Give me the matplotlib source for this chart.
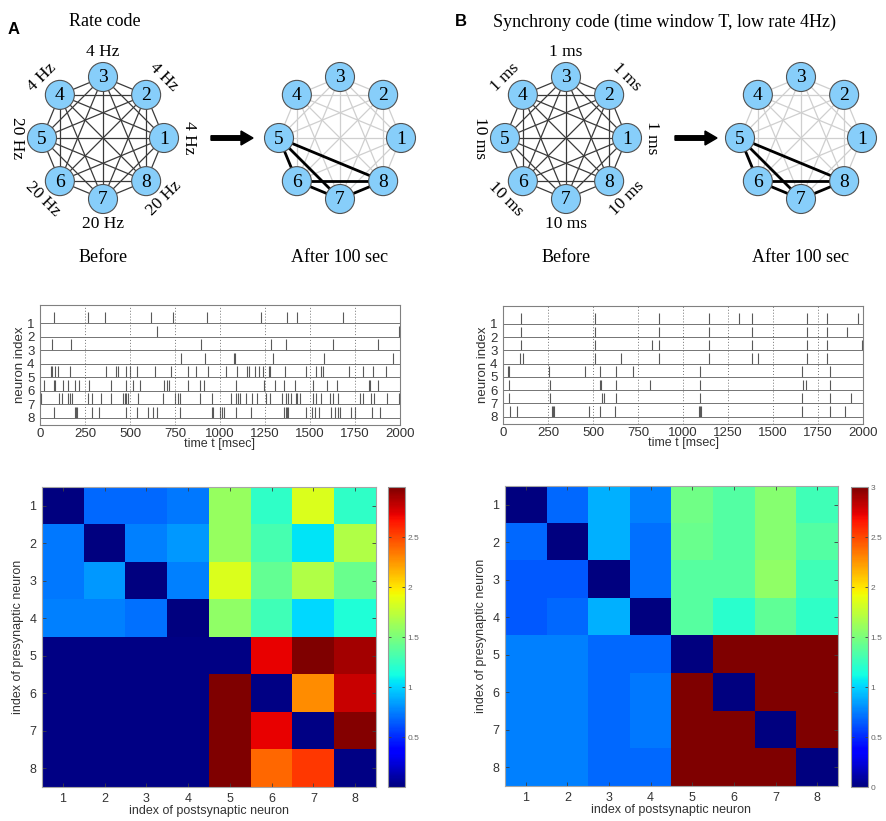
import numpy as np
import matplotlib
matplotlib.use("Agg")
import matplotlib.pyplot as plt
from matplotlib.patches import Circle, FancyArrow
from matplotlib.ticker import FormatStrFormatter

plt.rcParams['font.family'] = ['Liberation Sans', 'DejaVu Sans']

# ---- data ----
neurons = [1, 2, 3, 4, 5, 6, 7, 8]
rate_labels = ['4 Hz', '4 Hz', '4 Hz', '4 Hz', '20 Hz', '20 Hz', '20 Hz', '20 Hz']
sync_labels = ['1 ms', '1 ms', '1 ms', '1 ms', '10 ms', '10 ms', '10 ms', '10 ms']
strong_edges = [(5, 6), (5, 7), (5, 8), (6, 7), (6, 8), (7, 8)]

time_ticks = [0, 250, 500, 750, 1000, 1250, 1500, 1750, 2000]

rate_spikes = [
    [80, 265, 360, 615, 740, 930, 1225, 1370, 1425, 1685],
    [650, 1995],
    [65, 170, 895, 1285, 1365, 1630, 1875],
    [785, 915, 1075, 1085, 1295, 1575, 1960],
    [60, 65, 85, 100, 165, 365, 420, 435, 475, 500, 540, 640, 725, 820, 865, 935,
     1035, 1095, 1150, 1160, 1195, 1215, 1240, 1270, 1280, 1360, 1480, 1535, 1560,
     1570, 1715, 1795, 1850, 1920],
    [20, 75, 85, 130, 155, 195, 215, 270, 395, 475, 515, 555, 690, 705, 715, 820,
     890, 910, 1090, 1245, 1305, 1355, 1415, 1515, 1595, 1650, 1825, 1835, 1880],
    [5, 105, 120, 155, 165, 175, 265, 290, 340, 395, 460, 470, 480, 490, 545, 685,
     750, 765, 775, 890, 955, 1060, 1090, 1100, 1110, 1145, 1175, 1205, 1255, 1275,
     1345, 1365, 1375, 1395, 1420, 1430, 1445, 1515, 1535, 1560, 1610, 1625, 1655,
     1780, 1795, 1840, 1855, 1925, 1995],
    [75, 195, 200, 205, 290, 325, 475, 540, 600, 625, 650, 780, 955, 960, 1000,
     1010, 1020, 1090, 1170, 1355, 1365, 1370, 1380, 1480, 1510, 1525, 1550, 1615,
     1640, 1655, 1665, 1730, 1750, 1845, 1890],
]

sync_spikes = [
    [100, 510, 865, 1145, 1310, 1385, 1690, 1800, 1970],
    [100, 513, 865, 1145, 1385, 1690, 1800, 1910],
    [100, 510, 825, 865, 1145, 1383, 1690, 1800, 1995],
    [95, 110, 510, 655, 865, 1145, 1383, 1415, 1690, 1800],
    [30, 35, 255, 455, 540, 625, 720, 1095, 1660, 1815],
    [35, 260, 540, 545, 625, 815, 1095, 1665, 1685, 1815],
    [35, 260, 550, 560, 625, 1095, 1660, 1815, 1935],
    [40, 75, 270, 280, 285, 480, 540, 620, 1090, 1095, 1100, 1660, 1815, 1900],
]

rate_weights = np.array([
    [0.00, 0.68, 0.68, 0.73, 1.60, 1.22, 1.84, 1.22],
    [0.73, 0.00, 0.75, 0.83, 1.60, 1.31, 1.05, 1.69],
    [0.73, 0.83, 0.00, 0.75, 1.84, 1.41, 1.69, 1.43],
    [0.75, 0.75, 0.71, 0.00, 1.58, 1.28, 1.01, 1.17],
    [0.02, 0.02, 0.02, 0.02, 0.02, 2.72, 3.00, 2.90],
    [0.02, 0.02, 0.02, 0.02, 3.00, 0.02, 2.28, 2.81],
    [0.02, 0.02, 0.02, 0.02, 3.00, 2.72, 0.02, 2.98],
    [0.02, 0.02, 0.02, 0.02, 3.00, 2.40, 2.55, 0.02],
])

sync_weights = np.array([
    [0.00, 0.68, 0.90, 0.75, 1.46, 1.35, 1.54, 1.28],
    [0.68, 0.00, 0.90, 0.71, 1.43, 1.35, 1.54, 1.35],
    [0.64, 0.64, 0.00, 0.71, 1.37, 1.37, 1.58, 1.28],
    [0.64, 0.68, 0.90, 0.00, 1.37, 1.20, 1.40, 1.22],
    [0.75, 0.75, 0.68, 0.68, 0.00, 3.00, 3.00, 3.00],
    [0.75, 0.75, 0.68, 0.73, 3.00, 0.00, 3.00, 3.00],
    [0.75, 0.75, 0.68, 0.73, 3.00, 3.00, 0.00, 3.00],
    [0.75, 0.75, 0.68, 0.68, 3.00, 3.00, 3.00, 0.00],
])

W, H = 886, 821
fig = plt.figure(figsize=(W / 100, H / 100), dpi=100)


def px_axes(x0, y0, x1, y1):
    return fig.add_axes([x0 / W, 1 - y1 / H, (x1 - x0) / W, (y1 - y0) / H])


# overlay in pixel coordinates for the network drawings
ov = fig.add_axes([0, 0, 1, 1])
ov.set_xlim(0, W)
ov.set_ylim(H, 0)
ov.axis('off')

serif = 'Liberation Serif'
node_color = '#87cefa'
label_rot = [-90, -45, 0, 45, -90, -45, 0, 45]


def node_pos(cx, cy, r):
    ang = np.deg2rad(np.arange(8) * 45)
    return cx + r * np.cos(ang), cy - r * np.sin(ang)


def draw_net(cx, cy, strong=None, labels=None, r=61):
    xs, ys = node_pos(cx, cy, r)
    for i in range(8):
        for j in range(i + 1, 8):
            if strong is None:
                c, lw, z = '#3a3a3a', 0.9, 1
            elif (i + 1, j + 1) in strong:
                c, lw, z = 'black', 2.0, 2
            else:
                c, lw, z = '#cfcfcf', 0.9, 1
            ov.plot([xs[i], xs[j]], [ys[i], ys[j]], color=c, lw=lw, zorder=z)
    for k in range(8):
        ov.add_patch(Circle((xs[k], ys[k]), 14.5, fc=node_color, ec='#505050',
                            lw=0.8, zorder=3))
        ov.text(xs[k], ys[k] + 1, str(neurons[k]), ha='center', va='center',
                fontsize=14, family=serif, zorder=4)
    if labels is not None:
        lx, ly = node_pos(cx, cy, 86)
        for k in range(8):
            ov.text(lx[k], ly[k], labels[k], ha='center', va='center',
                    rotation=label_rot[k], rotation_mode='anchor',
                    fontsize=12.5, family=serif)


draw_net(103, 138, labels=rate_labels)
draw_net(340, 138, strong=strong_edges)
draw_net(566, 138, labels=sync_labels)
draw_net(801, 138, strong=strong_edges)

for x0 in (211, 675):
    ov.add_patch(FancyArrow(x0, 138, 30, 0, width=4.5, head_width=14,
                            head_length=12, color='black', length_includes_head=False))

ov.text(8, 30, 'A', fontsize=12, fontweight='bold', ha='left', va='center')
ov.text(455, 22, 'B', fontsize=12, fontweight='bold', ha='left', va='center')
ov.text(105, 22, 'Rate code', fontsize=13, family=serif, ha='center', va='center')
ov.text(665, 22, 'Synchrony code (time window T, low rate 4Hz)', fontsize=13,
        family=serif, ha='center', va='center')
for x in (103, 566):
    ov.text(x, 258, 'Before', fontsize=13, family=serif, ha='center', va='center')
for x in (340, 801):
    ov.text(x, 258, 'After 100 sec', fontsize=13, family=serif, ha='center', va='center')


# ---- raster plots ----
def raster(ax, spikes):
    for k, times in enumerate(spikes):
        ax.vlines(times, neurons[k] - 0.8, neurons[k], color='0.35', lw=0.8)
    for n in neurons:
        ax.axhline(n, color='0.45', lw=0.7)
    for t in time_ticks[1:-1]:
        ax.axvline(t, color='0.45', lw=0.7, ls=(0, (1, 2)))
    ax.set_xlim(0, 2000)
    ax.set_ylim(8.55, -0.35)
    ax.set_xticks(time_ticks)
    ax.set_yticks(neurons)
    ax.tick_params(labelsize=9.5, length=0, pad=2, colors='0.2')
    ax.tick_params(axis='y', pad=4)
    for s in ax.spines.values():
        s.set_color('0.5')
        s.set_linewidth(0.8)
    ax.set_xlabel('time t [msec]', fontsize=9, labelpad=-1, color='0.2')
    ax.set_ylabel('neuron index', fontsize=9.5, labelpad=1, color='0.2')


raster(px_axes(40, 305, 400, 425), rate_spikes)
raster(px_axes(503, 306, 863, 424), sync_spikes)


# ---- weight matrices ----
def heat(ax, cax, data, cticks):
    im = ax.imshow(data, cmap='jet', vmin=0, vmax=3, aspect='auto',
                   interpolation='nearest')
    ax.set_xticks(range(8))
    ax.set_xticklabels(neurons)
    ax.set_yticks(range(8))
    ax.set_yticklabels(neurons)
    ax.tick_params(direction='in', top=True, right=True, length=3, width=0.6,
                   color='0.25', labelsize=9, labelcolor='0.2', pad=4)
    for s in ax.spines.values():
        s.set_color('0.65')
        s.set_linewidth(0.8)
    ax.set_xlabel('index of postsynaptic neuron', fontsize=9, labelpad=0, color='0.2')
    ax.set_ylabel('index of presynaptic neuron', fontsize=9, labelpad=4, color='0.2')
    cb = fig.colorbar(im, cax=cax, ticks=cticks, format=FormatStrFormatter('%g'))
    cb.outline.set_edgecolor('0.6')
    cb.outline.set_linewidth(0.8)
    cax.tick_params(direction='in', left=True, right=True, length=2, width=0.6,
                    color='0.25', labelsize=6, labelcolor='0.4', pad=2)


heat(px_axes(42, 487, 376, 787), px_axes(388, 487, 405, 787), rate_weights,
     [0.5, 1, 1.5, 2, 2.5])
heat(px_axes(505, 486, 838, 786), px_axes(851, 487, 868, 787), sync_weights,
     [0, 0.5, 1, 1.5, 2, 2.5, 3])

fig.savefig('out.png', dpi=100)
